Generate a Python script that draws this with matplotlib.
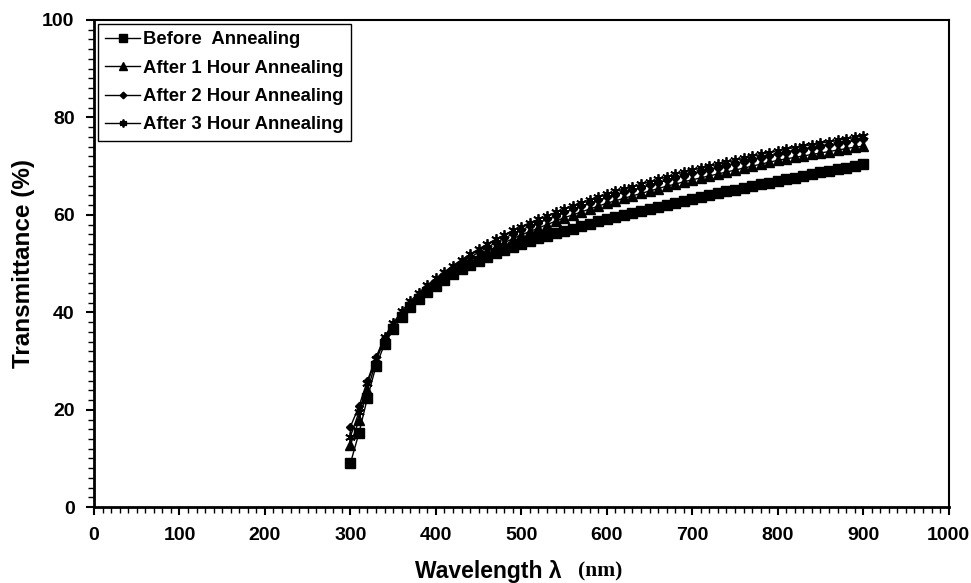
import matplotlib
matplotlib.use("Agg")
import matplotlib.pyplot as plt
from matplotlib.ticker import MultipleLocator

wavelength = list(range(300, 901, 10))

before = [9.0, 15.2, 22.5, 29.0, 33.5, 36.5, 39.0, 41.0, 42.8, 44.2,
          45.5, 46.7, 47.8, 48.8, 49.7, 50.6, 51.4, 52.1, 52.8, 53.4,
          54.0, 54.6, 55.2, 55.7, 56.2, 56.7, 57.2, 57.7, 58.2, 58.7,
          59.1, 59.5, 60.0, 60.4, 60.8, 61.2, 61.6, 62.0, 62.4, 62.8,
          63.2, 63.6, 64.0, 64.4, 64.8, 65.2, 65.6, 65.9, 66.3, 66.6,
          67.0, 67.3, 67.6, 68.0, 68.3, 68.7, 69.0, 69.4, 69.7, 70.1, 70.5]

after1h = [12.7, 17.9, 24.0, 30.0, 34.5, 37.3, 39.6, 41.6, 43.3, 44.8,
           46.1, 47.3, 48.5, 49.6, 50.6, 51.6, 52.5, 53.4, 54.3, 55.1,
           55.9, 56.6, 57.3, 58.0, 58.7, 59.4, 60.0, 60.6, 61.2, 61.8,
           62.4, 62.9, 63.4, 63.9, 64.4, 64.9, 65.4, 65.9, 66.3, 66.8,
           67.2, 67.6, 68.0, 68.4, 68.8, 69.2, 69.6, 70.0, 70.4, 70.8,
           71.2, 71.5, 71.8, 72.1, 72.4, 72.7, 73.0, 73.3, 73.6, 73.9, 74.1]

after2h = [16.5, 20.7, 26.0, 30.8, 34.8, 37.5, 39.9, 41.9, 43.6, 45.1,
           46.5, 47.8, 49.0, 50.2, 51.3, 52.3, 53.3, 54.3, 55.2, 56.1,
           56.9, 57.7, 58.4, 59.1, 59.8, 60.5, 61.2, 61.8, 62.4, 63.0,
           63.6, 64.1, 64.6, 65.1, 65.6, 66.1, 66.6, 67.1, 67.6, 68.0,
           68.5, 68.9, 69.3, 69.7, 70.1, 70.5, 70.9, 71.3, 71.7, 72.1,
           72.5, 72.8, 73.1, 73.4, 73.7, 74.0, 74.3, 74.6, 74.9, 75.3, 75.6]

after3h = [14.5, 19.5, 25.5, 30.5, 35.0, 37.8, 40.2, 42.3, 44.0, 45.6,
           47.0, 48.3, 49.6, 50.8, 51.9, 53.0, 54.0, 55.0, 55.9, 56.8,
           57.6, 58.4, 59.1, 59.8, 60.5, 61.2, 61.9, 62.5, 63.1, 63.7,
           64.3, 64.8, 65.3, 65.8, 66.3, 66.8, 67.3, 67.8, 68.3, 68.8,
           69.2, 69.6, 70.0, 70.4, 70.8, 71.2, 71.6, 72.0, 72.4, 72.8,
           73.2, 73.5, 73.8, 74.1, 74.4, 74.7, 75.0, 75.3, 75.6, 75.9, 76.2]

labels = ["Before  Annealing", "After 1 Hour Annealing",
          "After 2 Hour Annealing", "After 3 Hour Annealing"]
x_ticks = [0, 100, 200, 300, 400, 500, 600, 700, 800, 900, 1000]
y_ticks = [0, 20, 40, 60, 80, 100]

plt.rcParams['font.family'] = ['Liberation Sans', 'DejaVu Sans']
plt.rcParams['font.weight'] = 'bold'

fig = plt.figure(figsize=(9.71, 5.83), dpi=100)
ax = fig.add_axes([0.0968, 0.130, 0.8802, 0.8357])

ax.plot(wavelength, before, color='black', lw=1.0, marker='s', ms=7, label=labels[0])
ax.plot(wavelength, after1h, color='black', lw=1.0, marker='^', ms=7, label=labels[1])
ax.plot(wavelength, after2h, color='black', lw=1.0, marker='D', ms=4.5, label=labels[2])
ax.plot(wavelength, after3h, color='black', lw=1.0, marker=(6, 2, 0), ms=7.5, mew=1.3, label=labels[3])

ax.set_xlim(0, 1000)
ax.set_ylim(0, 100)
ax.set_xticks(x_ticks)
ax.set_yticks(y_ticks)
ax.xaxis.set_minor_locator(MultipleLocator(10))
ax.yaxis.set_minor_locator(MultipleLocator(2))
ax.tick_params(which='major', direction='out', length=6, width=1.5, labelsize=14, pad=8)
ax.tick_params(which='minor', direction='out', length=4, width=1.0)
for lab in ax.get_xticklabels() + ax.get_yticklabels():
    lab.set_fontweight('bold')
for s in ['left', 'bottom']:
    ax.spines[s].set_linewidth(2.0)
for s in ['top', 'right']:
    ax.spines[s].set_linewidth(1.5)

ax.set_ylabel("Transmittance (%)", fontsize=17.5, fontweight='bold', labelpad=5)

fig.text(0.4275, 0.0189, "Wavelength λ ", fontsize=16.5, fontweight='bold',
         ha='left', va='center', family=['Liberation Sans', 'DejaVu Sans'])
fig.text(0.595, 0.0189, "(nm)", fontsize=15.5, fontweight='bold',
         ha='left', va='center', family=['Liberation Serif', 'DejaVu Serif'])

leg = ax.legend(loc='upper left', bbox_to_anchor=(0.0, 1.0), fontsize=13.3,
                frameon=True, fancybox=False, edgecolor='black', framealpha=1,
                handlelength=1.9, handletextpad=0.15, borderpad=0.4,
                labelspacing=0.62, borderaxespad=0.2, markerscale=0.75)
leg.get_frame().set_linewidth(1.0)
for t in leg.get_texts():
    t.set_fontweight('bold')

fig.savefig("out.png", dpi=100)
